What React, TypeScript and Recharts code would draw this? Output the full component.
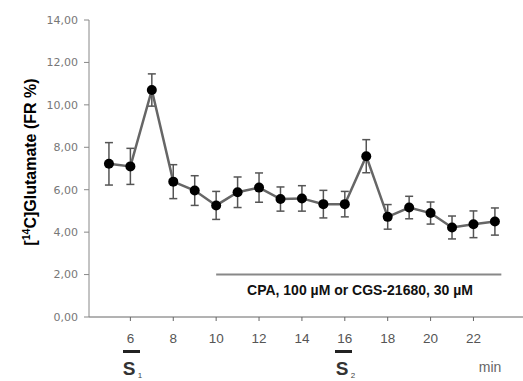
import React from 'react';
import { ComposedChart, Line, XAxis, YAxis, ErrorBar, ReferenceLine } from 'recharts';

const times = [5, 6, 7, 8, 9, 10, 11, 12, 13, 14, 15, 16, 17, 18, 19, 20, 21, 22, 23];
const glutamate = [7.22, 7.1, 10.7, 6.38, 5.96, 5.26, 5.88, 6.1, 5.56, 5.59, 5.32, 5.32, 7.58, 4.72, 5.16, 4.9, 4.22, 4.37, 4.5];
const sem = [1.0, 0.85, 0.76, 0.8, 0.7, 0.66, 0.72, 0.69, 0.57, 0.6, 0.65, 0.6, 0.78, 0.58, 0.53, 0.52, 0.54, 0.63, 0.64];
const xTicks = [6, 8, 10, 12, 14, 16, 18, 20, 22];
const yTicks = [0, 2, 4, 6, 8, 10, 12, 14];
const treatmentStart = 10;
const treatmentEnd = 23.3;
const treatmentLevel = 2;
const treatmentLabel = 'CPA, 100 µM or CGS-21680, 30 µM';

const data = times.map((t, i) => ({ t, v: glutamate[i], e: sem[i] }));

const Dot = (props: any) => {
  const { cx, cy } = props;
  if (cx == null || cy == null) return null;
  return <circle cx={cx} cy={cy} r={5} fill="#000" stroke="none" />;
};

export default function App() {
  return (
    <div style={{ position: 'absolute', left: 0, top: 0, width: 523, height: 381, background: '#fff' }}>
      <ComposedChart
        width={523}
        height={381}
        data={data}
        margin={{ top: 20, right: 0, bottom: 0, left: 0 }}
      >
        <XAxis
          type="number"
          dataKey="t"
          domain={[4.07, 24.31]}
          allowDataOverflow
          ticks={xTicks}
          tickSize={4}
          tickMargin={12}
          stroke="#666"
          tick={{ fill: '#555', fontSize: 13.5, fontFamily: 'Liberation Sans' }}
          height={64}
        />
        <YAxis
          type="number"
          domain={[0, 14]}
          ticks={yTicks}
          width={89}
          tickSize={5}
          tickMargin={6}
          stroke="#888"
          tick={{ fill: '#777', fontSize: 11, fontFamily: 'DejaVu Sans' }}
          tickFormatter={(v: number) => v.toFixed(2).replace('.', ',')}
        />
        <ReferenceLine
          segment={[{ x: treatmentStart, y: treatmentLevel }, { x: treatmentEnd, y: treatmentLevel }]}
          stroke="#888"
          strokeWidth={2}
          ifOverflow="visible"
        />
        <Line
          dataKey="v"
          stroke="#666"
          strokeWidth={2.5}
          dot={<Dot />}
          activeDot={false}
          isAnimationActive={false}
        >
          <ErrorBar dataKey="e" width={4} stroke="#555" strokeWidth={1.5} direction="y" />
        </Line>
      </ComposedChart>
      <svg width={523} height={381} style={{ position: 'absolute', left: 0, top: 0, pointerEvents: 'none' }}>
        <text
          transform="translate(36,162) rotate(-90)"
          textAnchor="middle"
          fontFamily="Liberation Sans"
          fontWeight="bold"
          fontSize={16}
          fill="#000"
        >
          [<tspan fontSize={10.5} dy={-6}>14</tspan><tspan dy={6}>C]Glutamate (FR %)</tspan>
        </text>
        <text x={360} y={295} textAnchor="middle" fontFamily="Liberation Sans" fontWeight="bold" fontSize={14} fill="#111">
          {treatmentLabel}
        </text>
        <rect x={123} y={350} width={17} height={3} fill="#222" />
        <text x={129} y={375} textAnchor="middle" fontFamily="Liberation Sans" fontWeight="bold" fontSize={19} fill="#333">S</text>
        <text x={140} y={378} textAnchor="middle" fontFamily="Liberation Sans" fontSize={8} fill="#444">1</text>
        <rect x={335} y={350} width={17} height={3} fill="#222" />
        <text x={342} y={375} textAnchor="middle" fontFamily="Liberation Sans" fontWeight="bold" fontSize={19} fill="#333">S</text>
        <text x={353} y={378} textAnchor="middle" fontFamily="Liberation Sans" fontSize={8} fill="#444">2</text>
        <text x={490} y={372} textAnchor="middle" fontFamily="Liberation Sans" fontSize={14} fill="#666">min</text>
      </svg>
    </div>
  );
}
